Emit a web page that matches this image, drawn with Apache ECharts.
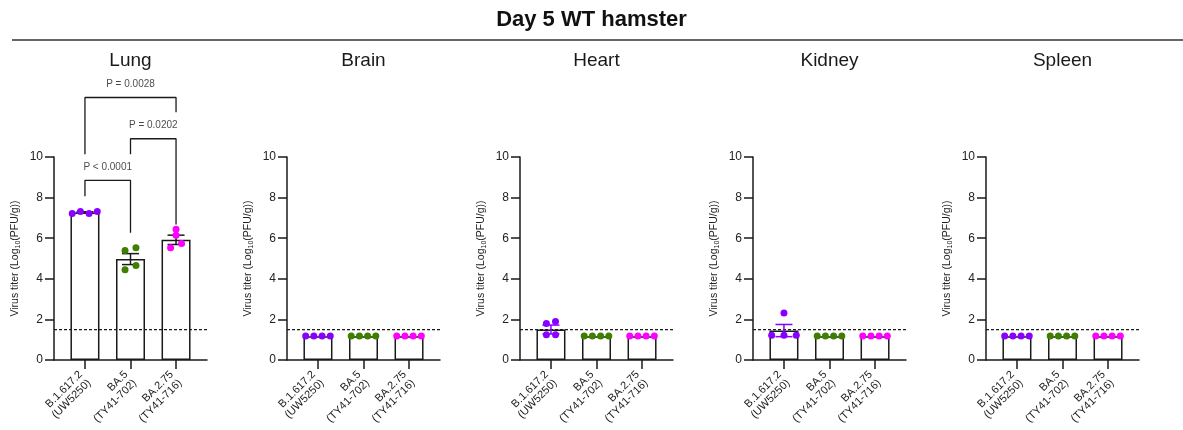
<!DOCTYPE html>
<html>
<head>
<meta charset="utf-8">
<script src="https://cdn.jsdelivr.net/npm/echarts@6/dist/echarts.min.js"></script>
<style>
  html, body { margin: 0; padding: 0; background: #fff; }
  #chart { width: 1183px; height: 430px; }
</style>
</head>
<body>
<div id="chart"></div>
<script>
// panels, left to right
const organs = ['Lung', 'Brain', 'Heart', 'Kidney', 'Spleen'];
const variants = ['B.1.617.2\n(UW5250)', 'BA.5\n(TY41-702)', 'BA.2.75\n(TY41-716)'];
const yTicks = [0, 2, 4, 6, 8, 10];
const detectionLimit = 1.5;

// bar height (mean) and SEM, one value per variant
const lungMean = [7.27, 4.97, 5.92];
const lungSem = [0.03, 0.27, 0.23];
const brainMean = [1.17, 1.17, 1.17];
const brainSem = [0, 0, 0];
const heartMean = [1.5, 1.17, 1.17];
const heartSem = [0.22, 0, 0];
const kidneyMean = [1.45, 1.17, 1.17];
const kidneySem = [0.3, 0, 0];
const spleenMean = [1.17, 1.17, 1.17];
const spleenSem = [0, 0, 0];

// individual animals (4 per group)
const lungPoints = [[7.22, 7.31, 7.22, 7.31], [4.44, 5.40, 5.53, 4.65], [6.44, 6.14, 5.53, 5.74]];
const brainPoints = [[1.18, 1.18, 1.18, 1.18], [1.18, 1.18, 1.18, 1.18], [1.18, 1.18, 1.18, 1.18]];
const heartPoints = [[1.80, 1.90, 1.24, 1.24], [1.18, 1.18, 1.18, 1.18], [1.18, 1.18, 1.18, 1.18]];
const kidneyPoints = [[2.31, 1.22, 1.22, 1.22], [1.18, 1.18, 1.18, 1.18], [1.18, 1.18, 1.18, 1.18]];
const spleenPoints = [[1.18, 1.18, 1.18, 1.18], [1.18, 1.18, 1.18, 1.18], [1.18, 1.18, 1.18, 1.18]];

// horizontal scatter of the dots around each bar centre (category units)
const evenSpread = [-0.27, -0.09, 0.09, 0.27];
const lungSpread = [[-0.28, -0.1, 0.09, 0.27], [-0.12, -0.12, 0.12, 0.12], [0, 0, -0.12, 0.12]];
const heartSpread = [[-0.1, 0.1, -0.1, 0.1], evenSpread, evenSpread];
const kidneySpread = [[0, -0.27, 0, 0.27], evenSpread, evenSpread];

// lung comparisons
const pLabels = ['P < 0.0001', 'P = 0.0202', 'P = 0.0028'];
const pPairs = [[0, 1], [1, 2], [0, 2]];
const pLevel = [8.85, 10.9, 12.93];
const pLegEnds = [[8.07, 6.27], [10.13, 6.68], [10.13, 12.2]];

const means = [lungMean, brainMean, heartMean, kidneyMean, spleenMean];
const sems = [lungSem, brainSem, heartSem, kidneySem, spleenSem];
const points = [lungPoints, brainPoints, heartPoints, kidneyPoints, spleenPoints];
const spreads = [lungSpread, [evenSpread, evenSpread, evenSpread], heartSpread, kidneySpread,
  [evenSpread, evenSpread, evenSpread]];

const colors = ['#8a00ff', '#3f7f00', '#ff00ff'];
const font = 'Liberation Sans, Arial, sans-serif';
const ink = '#1a1a1a';
const xMin = -0.68, xMax = 2.68;

const chart = echarts.init(document.getElementById('chart'));

const grids = [], xAxes = [], yAxes = [], series = [], graphics = [];

graphics.push({
  type: 'line', shape: { x1: 12, y1: 40, x2: 1183, y2: 40 },
  style: { stroke: '#333', lineWidth: 1.5 }
});

organs.forEach((organ, i) => {
  const left = 54 + 233 * i;
  grids.push({ left: left, top: 157, width: 153, height: 203 });
  graphics.push({
    type: 'text', x: left + 76.5, y: 61,
    style: { text: organ, font: '19px ' + font, fill: ink, textAlign: 'center', textVerticalAlign: 'middle' }
  });
  xAxes.push({
    type: 'value', gridIndex: i, min: xMin, max: xMax,
    splitLine: { show: false },
    axisLine: { show: true, onZero: false, lineStyle: { color: ink, width: 1.5 } },
    axisTick: { show: true, length: 9, customValues: [0, 1, 2], lineStyle: { color: ink, width: 1.5 } },
    axisLabel: {
      customValues: [0, 1, 2], rotate: 45, margin: 17,
      fontFamily: font, fontSize: 11, lineHeight: 12, color: ink,
      formatter: v => variants[Math.round(v)]
    }
  });
  yAxes.push({
    type: 'value', gridIndex: i, min: yTicks[0], max: yTicks[yTicks.length - 1], interval: 2,
    splitLine: { show: false },
    axisLine: { show: true, onZero: false, lineStyle: { color: ink, width: 1.5 } },
    axisTick: { show: true, length: 9, lineStyle: { color: ink, width: 1.5 } },
    axisLabel: { margin: 11, fontFamily: font, fontSize: 12, color: '#222' },
    name: '{a|Virus titer (Log}{b|10}{a|(PFU/g))}',
    nameLocation: 'middle', nameGap: 32,
    nameTextStyle: {
      rich: {
        a: { fontFamily: font, fontSize: 10.5, color: '#222', lineHeight: 14 },
        b: { fontFamily: font, fontSize: 7, color: '#222', lineHeight: 8, verticalAlign: 'bottom' }
      }
    }
  });

  series.push({
    type: 'bar', xAxisIndex: i, yAxisIndex: i, barWidth: 29, z: 1, silent: true,
    data: means[i].map((m, j) => [j, m]),
    itemStyle: { color: '#fff', borderColor: ink, borderWidth: 1.5 }
  });

  series.push({
    type: 'line', xAxisIndex: i, yAxisIndex: i, symbol: 'none', silent: true, z: 2,
    data: [[xMin, detectionLimit], [xMax, detectionLimit]],
    lineStyle: { color: ink, width: 1.2, type: [3, 2] }
  });

  series.push({
    type: 'custom', xAxisIndex: i, yAxisIndex: i, z: 4, silent: true,
    data: means[i].map((m, j) => [j, m, sems[i][j]]),
    renderItem: (params, api) => {
      const x = api.value(0), m = api.value(1), s = api.value(2);
      if (!s) return null;
      const c = organ === 'Lung' ? ink : colors[params.dataIndex];
      const top = api.coord([x, m + s]);
      const bot = api.coord([x, m - s]);
      const half = 8.5;
      const st = { stroke: c, lineWidth: 1.5 };
      return {
        type: 'group', children: [
          { type: 'line', shape: { x1: top[0], y1: top[1], x2: bot[0], y2: bot[1] }, style: st },
          { type: 'line', shape: { x1: top[0] - half, y1: top[1], x2: top[0] + half, y2: top[1] }, style: st },
          { type: 'line', shape: { x1: bot[0] - half, y1: bot[1], x2: bot[0] + half, y2: bot[1] }, style: st }
        ]
      };
    }
  });

  variants.forEach((v, j) => {
    series.push({
      type: 'scatter', xAxisIndex: i, yAxisIndex: i, z: 5, silent: true,
      symbolSize: 7,
      itemStyle: { color: colors[j], opacity: 1 },
      data: points[i][j].map((p, k) => [j + spreads[i][j][k], p])
    });
  });
});

// significance brackets on the lung panel
pLabels.forEach((label, k) => {
  const [a, b] = pPairs[k];
  series.push({
    type: 'line', xAxisIndex: 0, yAxisIndex: 0, symbol: 'none', clip: false, silent: true, z: 6,
    data: [[a, pLegEnds[k][0]], [a, pLevel[k]], [b, pLevel[k]], [b, pLegEnds[k][1]]],
    lineStyle: { color: ink, width: 1.3 }
  });
  series.push({
    type: 'scatter', xAxisIndex: 0, yAxisIndex: 0, symbolSize: 0, clip: false, silent: true, z: 6,
    data: [[(a + b) / 2, pLevel[k]]],
    label: {
      show: true, position: 'top', distance: 8, formatter: label,
      fontFamily: font, fontSize: 10, color: ink
    }
  });
});

chart.setOption({
  animation: false,
  backgroundColor: '#fff',
  title: {
    text: 'Day 5 WT hamster', left: 'center', top: 9, padding: 0,
    textStyle: { fontFamily: font, fontSize: 22, fontWeight: 'bold', color: '#111' }
  },
  grid: grids,
  xAxis: xAxes,
  yAxis: yAxes,
  series: series,
  graphic: graphics
});
</script>
</body>
</html>
